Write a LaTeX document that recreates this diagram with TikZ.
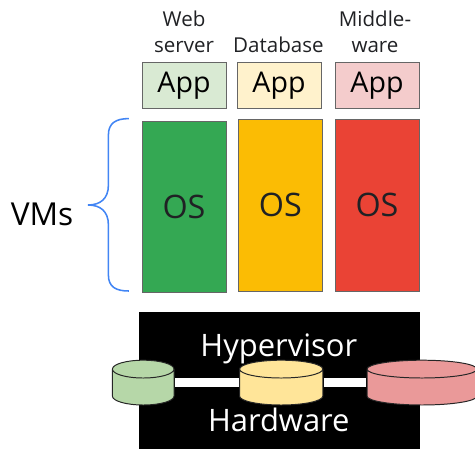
\documentclass[tikz,border=0pt]{standalone}
\usepackage{fontspec}
\setmainfont{Open Sans}
\usepackage{xcolor}
\definecolor{InkGrey}{HTML}{202124}
\definecolor{BraceBlue}{HTML}{4285F4}
\definecolor{VmGreen}{HTML}{34A853}
\definecolor{VmYellow}{HTML}{FBBC04}
\definecolor{VmRed}{HTML}{EA4335}
\definecolor{AppGreen}{HTML}{D9EAD3}
\definecolor{AppYellow}{HTML}{FFF2CC}
\definecolor{AppRed}{HTML}{F4CCCC}
\definecolor{DiskGreen}{HTML}{B6D7A8}
\definecolor{DiskYellow}{HTML}{FFE599}
\definecolor{DiskRed}{HTML}{EA9999}
\usetikzlibrary{shapes.geometric, positioning}
\tikzset{
  appbox/.style={rectangle, draw=black!60, line width=0.6pt, inner sep=0pt, minimum width=2.1cm, minimum height=1.14cm, font=\fontsize{20.3}{22}\selectfont, text=black},
  osbox/.style={rectangle, draw=black!60, line width=0.6pt, inner sep=0pt, minimum width=2.1cm, minimum height=4.3cm, font=\fontsize{23}{25}\selectfont, text=InkGrey},
  rolelabel/.style={font=\fontsize{14.6}{17.8}\selectfont, align=center, text=InkGrey, inner sep=0pt},
  hostlabel/.style={font=\fontsize{22}{24}\selectfont, text=white, inner sep=0pt},
  diskshape/.style={cylinder, draw=black!85, line width=0.7pt, shape border rotate=90, aspect=1.9, cylinder uses custom fill, minimum height=1.12cm, anchor=shape center},
  linkbar/.style={white, line width=0.225cm},
  bracepath/.style={BraceBlue, line width=1.1pt}
}
\begin{document}
\begin{tikzpicture}
  \useasboundingbox (0,0) rectangle (11.875,11.225);
  \node[rolelabel] (web) at (4.6,10.43) {Web\\server};
  \node[rolelabel] (db) at (6.96,10.43) {\strut\\Database};
  \node[rolelabel] (mw) at (9.375,10.43) {Middle-\\ware};

  \node[appbox, fill=AppGreen] (app1) at (4.6,9.09) {App};
  \node[appbox, fill=AppYellow] (app2) at (6.975,9.09) {App};
  \node[appbox, fill=AppRed] (app3) at (9.425,9.09) {App};

  \node[osbox, fill=VmGreen, minimum height=4.275cm] (os1) at (4.6,6.06) {OS};
  \node[osbox, fill=VmYellow] (os2) at (7.01,6.1) {OS};
  \node[osbox, fill=VmRed] (os3) at (9.425,6.1) {OS};

  \node[font=\fontsize{22.5}{24}\selectfont, text=black, inner sep=0pt] (vms) at (1.05,5.87) {VMs};
  \coordinate (bracetop) at (3.22,8.26);
  \coordinate (bracetip) at (2.2,6.1);
  \coordinate (bracebot) at (3.22,3.95);
  \draw[bracepath] (bracetop) .. controls (2.9,8.26) and (2.71,8.15) .. (2.71,7.85)
    -- (2.71,6.6) .. controls (2.71,6.25) and (2.5,6.1) .. (bracetip)
    .. controls (2.5,6.1) and (2.71,5.95) .. (2.71,5.6)
    -- (2.71,4.35) .. controls (2.71,4.05) and (2.9,3.95) .. (bracebot);

  \node[rectangle, fill=black, inner sep=0pt, minimum width=7.025cm, minimum height=3.425cm] (host) at (6.99,1.71) {};
  \node[hostlabel] (hyper) at (6.97,2.5) {Hypervisor};
  \node[hostlabel] (hard) at (6.97,0.72) {Hardware};

  \node[diskshape, minimum width=1.54cm, cylinder body fill=DiskGreen, cylinder end fill=DiskGreen] (disk1) at (3.58,1.66) {};
  \node[diskshape, minimum width=2.08cm, cylinder body fill=DiskYellow, cylinder end fill=DiskYellow] (disk2) at (7.03,1.66) {};
  \node[diskshape, minimum width=2.75cm, cylinder body fill=DiskRed, cylinder end fill=DiskRed] (disk3) at (10.55,1.66) {};
  \draw[linkbar, shorten <=0.795cm, shorten >=1.065cm] (disk1.shape center) -- (disk2.shape center);
  \draw[linkbar, shorten <=1.065cm, shorten >=1.4cm] (disk2.shape center) -- (disk3.shape center);
\end{tikzpicture}
\end{document}
